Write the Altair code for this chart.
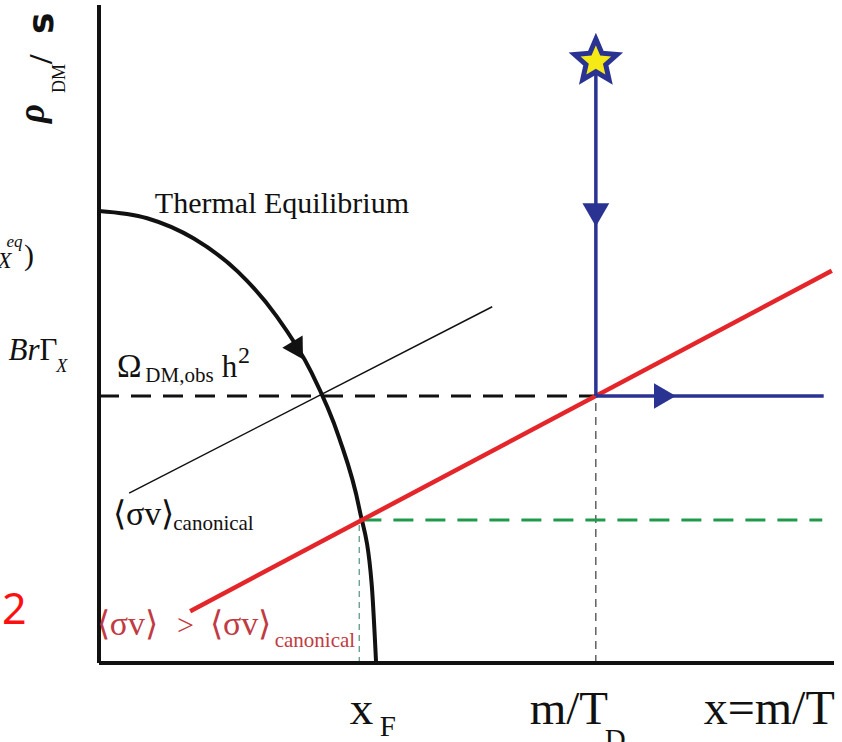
import altair as alt
import pandas as pd

# Schematic coordinates: x = m/T (0..100), y = rho_DM/s (0..100)
W, H = 735, 656

# Thermal-equilibrium abundance curve
eq_x = [0, 6.55, 12.9, 18.85, 24.2, 28.9, 32.65, 35.4, 37.1, 37.7]
eq_y = [68.9, 67.8, 64.7, 59.7, 52.8, 44.3, 34.4, 23.6, 12.0, 0]

# Observed relic density level and the decay point m/T_D
obs_y = 40.7
x_decay = 67.6
x_freeze = 35.4
canon_y = 21.8

# Freeze-out line for <sigma v> > <sigma v>_canonical
red_x = [12.4, 99.7]
red_y = [7.9, 59.8]

# Canonical freeze-out line
thin_x = [4.1, 53.5]
thin_y = [25.9, 54.3]

# Late-decay history: start at the star, drop to the observed value, then flat
star_pt = (67.6, 91.7)
blue_v_y = [91.6, obs_y]
blue_h_x = [x_decay, 98.6]

xs = alt.Scale(domain=[0, 100], nice=False, zero=False)
ys = alt.Scale(domain=[0, 100], nice=False, zero=False)

INK = "#111111"
NAVY = "#2a3392"
RED = "#e4262b"
RED_TXT = "#c23a42"
GREEN = "#1f9a4c"
TEAL = "#2b7a68"
SERIF = "Liberation Serif"


def enc(ch):
    return ch.encode(
        x=alt.X("x:Q", scale=xs, axis=None),
        y=alt.Y("y:Q", scale=ys, axis=None),
    )


def line(xv, yv, color, width, dash=None, interp="linear"):
    df = pd.DataFrame({"x": xv, "y": yv, "i": list(range(len(xv)))})
    kw = dict(color=color, strokeWidth=width, strokeCap="butt", interpolate=interp)
    if dash:
        kw["strokeDash"] = dash
    return alt.Chart(df).mark_line(**kw).encode(
        x=alt.X("x:Q", scale=xs, axis=None),
        y=alt.Y("y:Q", scale=ys, axis=None),
        order="i:Q",
    )


def marker(xv, yv, shape, size, color, angle=0):
    df = pd.DataFrame({"x": [xv], "y": [yv]})
    kw = dict(shape=shape, size=size, filled=True, color=color, opacity=1)
    if angle:
        kw["angle"] = angle
    return enc(alt.Chart(df).mark_point(**kw))


def label(txt, xv, yv, size, color=INK, style="normal", weight="normal",
          font=SERIF, angle=0, align="left"):
    df = pd.DataFrame({"x": [xv], "y": [yv], "t": [txt]})
    kw = dict(align=align, baseline="alphabetic", font=font, fontSize=size,
              fontStyle=style, fontWeight=weight, color=color)
    if angle:
        kw["angle"] = angle
    return alt.Chart(df).mark_text(**kw).encode(
        x=alt.X("x:Q", scale=xs, axis=None),
        y=alt.Y("y:Q", scale=ys, axis=None),
        text="t:N",
    )


star_path = ("M0,-1L0.27,-0.37L0.95,-0.31L0.44,0.14L0.59,0.81L0,0.46"
             "L-0.59,0.81L-0.44,0.14L-0.95,-0.31L-0.27,-0.37Z")

layers = [
    # guide lines down to the x axis
    line([x_freeze, x_freeze], [0, canon_y], TEAL, 1, dash=[6, 5]),
    line([x_decay, x_decay], [0, obs_y], INK, 1, dash=[8, 6]),
    # observed density and canonical level
    line([0, x_decay], [obs_y, obs_y], INK, 3, dash=[20, 12]),
    line([x_freeze + 0.3, 98.4], [canon_y, canon_y], GREEN, 3, dash=[20, 12]),
    line(thin_x, thin_y, INK, 1.5),
    # equilibrium curve
    line(eq_x, eq_y, INK, 4, interp="monotone"),
    marker(26.8, 48.1, "triangle", 560, INK, angle=149),
    # freeze-out line
    line(red_x, red_y, RED, 4.5),
    # decay history
    line([x_decay, x_decay], blue_v_y, NAVY, 3.5),
    line(blue_h_x, [obs_y, obs_y], NAVY, 3.5),
    marker(x_decay, 68.3, "triangle-down", 720, NAVY),
    marker(77.0, obs_y, "triangle-right", 640, NAVY),
    enc(alt.Chart(pd.DataFrame({"x": [star_pt[0]], "y": [star_pt[1]]})).mark_point(
        shape=star_path, size=2000, fill="#f6ea16", stroke=NAVY, strokeWidth=5,
        opacity=1, fillOpacity=1, strokeOpacity=1, strokeJoin="miter")),
    # axes
    line([0, 100], [0, 0], INK, 4),
    line([0, 0], [0, 100.3], INK, 4),
    # annotations
    label("Thermal Equilibrium", 7.6, 68.6, 30),
    label("Ω", 2.45, 43.6, 33),
    label("DM,obs", 6.3, 42.8, 21),
    label("h", 16.7, 43.6, 31),
    label("2", 18.9, 45.8, 24),
    label("⟨σv⟩", 1.9, 21.0, 34),
    label("canonical", 10.1, 20.2, 21),
    label("⟨σv⟩", -0.3, 4.3, 34, color=RED_TXT),
    label(">", 10.6, 4.3, 30, color=RED_TXT),
    label("⟨σv⟩", 15.1, 4.3, 34, color=RED_TXT),
    label("canonical", 23.9, 2.4, 21, color=RED_TXT),
    label("x", 34.1, -9.3, 47),
    label("F", 38.2, -11.1, 29),
    label("m/T", 58.6, -9.3, 47),
    label("D", 68.8, -13.1, 29),
    label("x=m/T", 100.1, -9.3, 48, align="right"),
    label("2", -13.2, 6.0, 43, color="#ff1010", font="Noto Sans"),
    # left-hand equation fragments
    label("X", -13.8, 60.2, 23, style="italic"),
    label("eq", -12.6, 63.4, 17, style="italic"),
    label(")", -10.2, 60.7, 30),
    label("Br", -8.1, 46.2, 31, style="italic", align="right"),
    label("Γ", -8.1, 46.2, 31),
    label("X", -5.8, 44.3, 18, style="italic"),
    # y-axis title, rotated
    label("ρ", -7.5, 82.3, 37, style="italic", weight="bold", angle=270),
    label("DM", -4.6, 86.9, 18, angle=270),
    label("/", -6.4, 91.3, 34, weight="bold", angle=270),
    label("s", -6.3, 95.9, 36, weight="bold", font="DejaVu Sans", angle=270),
]

chart = alt.layer(*layers).properties(
    width=W,
    height=H,
    padding={"left": 99, "top": 7, "right": 8, "bottom": 79},
    autosize=alt.AutoSizeParams(type="none"),
    background="white",
).configure_view(stroke=None)

chart.save("out.html", embed_options={"renderer": "svg", "actions": False})
